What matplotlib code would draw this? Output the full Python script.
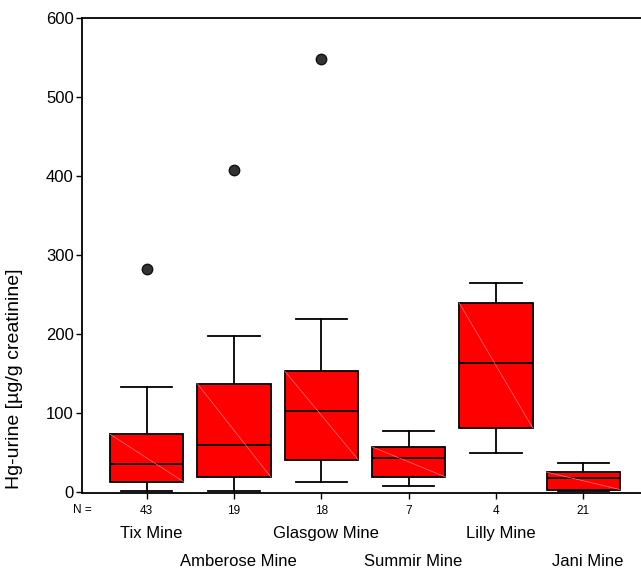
import matplotlib
matplotlib.use('Agg')
import matplotlib.pyplot as plt
import matplotlib.transforms as mtransforms

plt.rcParams['font.family'] = ['Liberation Sans', 'DejaVu Sans']

# Hg in urine per mine (box statistics in ug/g creatinine)
mines = ['Tix Mine', 'Amberose Mine', 'Glasgow Mine', 'Summir Mine', 'Lilly Mine', 'Jani Mine']
n_counts = [43, 19, 18, 7, 4, 21]
whisker_low = [1, 1, 13, 7, 49, 1]
q1 = [13, 19, 41, 19, 81, 3]
median = [35, 60, 103, 43, 163, 17]
q3 = [73, 137, 153, 57, 239, 25]
whisker_high = [133, 197, 219, 77, 265, 37]
outliers = [[282], [408], [548], [], [], []]

stats = []
for i in range(len(mines)):
    stats.append(dict(whislo=whisker_low[i], q1=q1[i], med=median[i], q3=q3[i],
                      whishi=whisker_high[i], fliers=outliers[i], label=str(n_counts[i])))

fig = plt.figure(figsize=(6.41, 5.68), dpi=100)
ax = fig.add_axes([0.128, 0.1326, 0.872, 0.8357])

pos = list(range(1, len(mines) + 1))
bw = 0.84
ax.bxp(stats, positions=pos, widths=bw, capwidths=0.59, patch_artist=True,
       boxprops=dict(facecolor='#ff0000', edgecolor='black', linewidth=1.3),
       medianprops=dict(color='black', linewidth=1.3),
       whiskerprops=dict(color='black', linewidth=1.3),
       capprops=dict(color='black', linewidth=1.3),
       flierprops=dict(marker='o', markerfacecolor='#333333', markeredgecolor='#111111',
                       markersize=7.5, linestyle='none'))

# faint diagonal seam across each box
for p, lo, hi in zip(pos, q1, q3):
    ax.plot([p - bw / 2, p + bw / 2], [hi, lo], color='#ff7a7a', lw=0.5, zorder=2.5)

ax.set_xlim(0.26, 6.66)
ax.set_ylim(-1, 600)
ax.set_yticks(range(0, 601, 100))
ax.tick_params(axis='y', labelsize=12, length=4, width=1, direction='out', pad=2)
ax.tick_params(axis='x', labelsize=8.5, length=4, width=1, direction='out', pad=5)
ax.set_xticks(pos)
ax.set_xticklabels([str(n) for n in n_counts])
ax.spines['right'].set_visible(False)
for s in ['top', 'left', 'bottom']:
    ax.spines[s].set_linewidth(1.3)

ax.set_ylabel('Hg-urine [µg/g creatinine]', fontsize=14)
ax.yaxis.set_label_coords(-0.105, 0.24)

trans = mtransforms.blended_transform_factory(ax.transData, ax.transAxes)
ax.text(0.0, -0.036, 'N =', transform=ax.transAxes, fontsize=8.5, ha='center', va='center')
for i, name in enumerate(mines):
    y = -0.087 if i % 2 == 0 else -0.144
    ax.text(pos[i] + 0.05, y, name, transform=trans, fontsize=12, ha='center', va='center')

fig.savefig('out.png', dpi=100)
